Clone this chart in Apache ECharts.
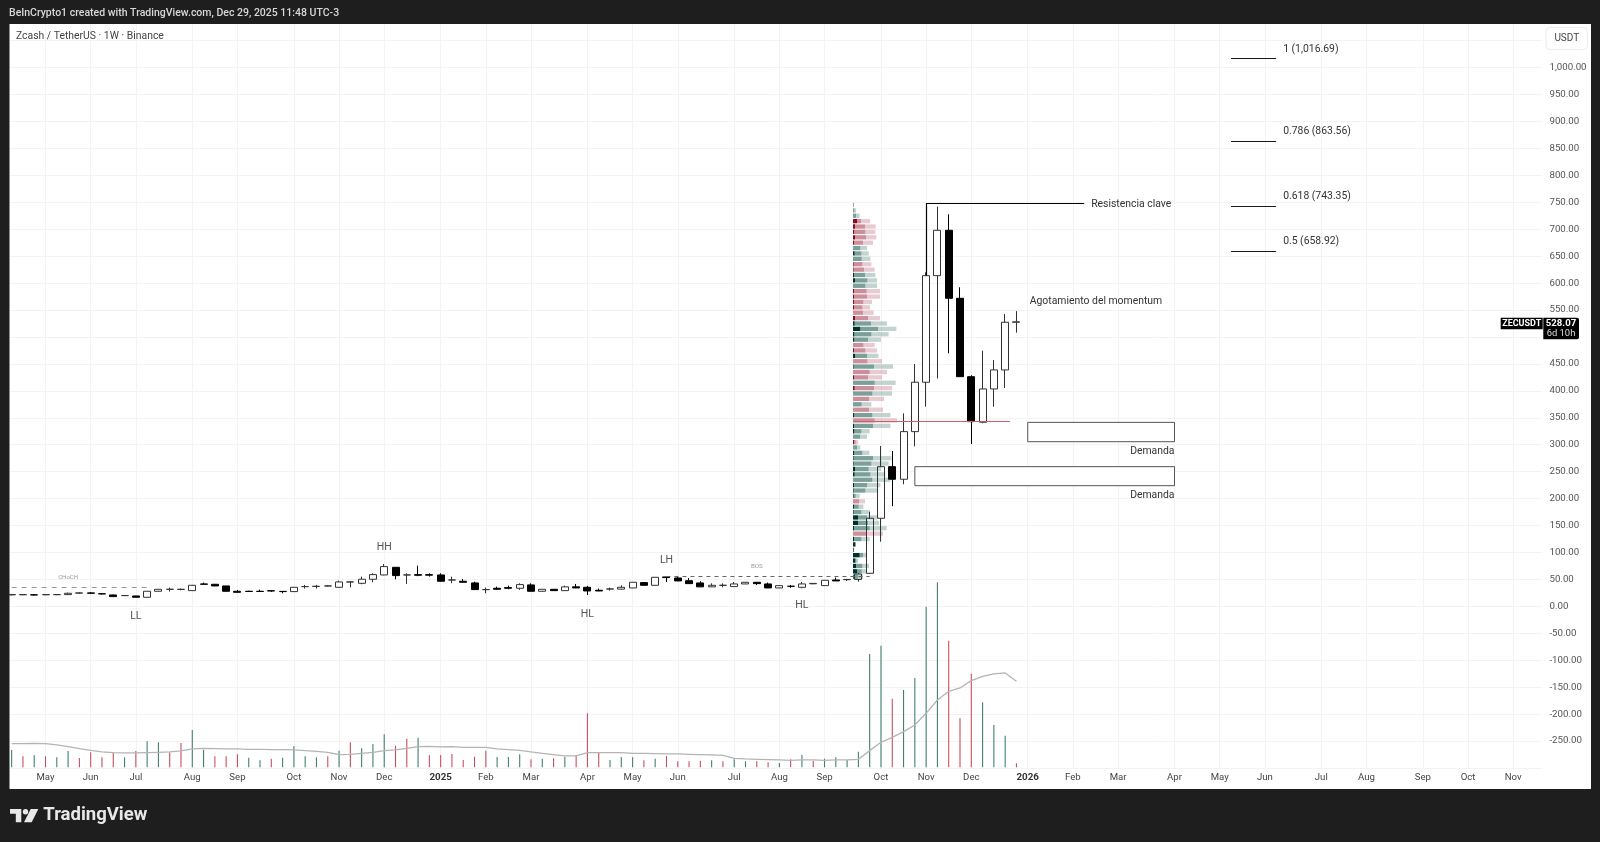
<!DOCTYPE html>
<html>
<head>
<meta charset="utf-8">
<title>ZECUSDT</title>
<style>html,body{margin:0;padding:0;background:#1e1e1e}#main{width:1600px;height:842px}</style>
<script src="https://cdn.jsdelivr.net/npm/echarts@6/dist/echarts.min.js"></script>
</head>
<body>
<div id="main"></div>
<script>
// weekly bars, first one is the week of 2024-04-15, last one with data 2025-12-29
var tickWeeks = ['2024-05-06','2024-06-03','2024-07-01','2024-08-05','2024-09-02','2024-10-07','2024-11-04','2024-12-02','2025-01-06','2025-02-03','2025-03-03','2025-04-07','2025-05-05','2025-06-02','2025-07-07','2025-08-04','2025-09-01','2025-10-06','2025-11-03','2025-12-01','2026-01-05','2026-02-02','2026-03-02','2026-04-06','2026-05-04','2026-06-01','2026-07-06','2026-08-03','2026-09-07','2026-10-05','2026-11-02'];
var tickLabels = ['May','Jun','Jul','Aug','Sep','Oct','Nov','Dec','2025','Feb','Mar','Apr','May','Jun','Jul','Aug','Sep','Oct','Nov','Dec','2026','Feb','Mar','Apr','May','Jun','Jul','Aug','Sep','Oct','Nov'];

// open, close, low, high
var ohlc = [
  [21.5,21.8,20.4,23.1],[21.6,21.8,20.8,22.8],[21.4,21.2,19.9,22.4],[21.6,21.8,20.8,22.6],[21.8,21.8,20.8,22.8],
  [21.8,24.3,21.2,25.5],[24.6,24.9,23.8,26.1],[25,24.3,23.7,26.4],[23.4,23.1,21.8,24.2],[21.2,18.1,18,21.6],
  [20,20,19.6,20.8],[19.3,16.9,16.8,19.6],[16.9,28,16.8,28.2],[28,31.7,27.6,32],[31.7,31.7,27.4,34.8],
  [31.5,31.7,29.9,33],[29.2,39.1,28.8,39.8],[41.6,41,40.8,44.1],[41,37.9,37.6,41.6],[37.9,28,27.8,38.2],
  [28,26.1,25.8,30.5],[28,27.6,27,29],[28,27.6,27,31],[29,28.6,27,29.6],[27.8,27.4,24.3,28],
  [27.4,35.4,27,35.8],[36.7,36.7,33,39.8],[37,37.3,33,39.8],[37.9,37.9,37,39],[35.4,45.3,35,47.8],
  [45.3,45.3,35.4,46],[42.8,50.3,41,55.2],[50.3,58.9,44.7,61.4],[58.3,73.8,57.7,78.7],[72.5,57.1,50.3,73],
  [58.3,58.3,41.6,61.4],[58.9,57.7,56,75.6],[58.9,57.9,55.2,61.4],[58.3,46.6,46,61.4],[49,49,43,55.2],
  [46.6,44.7,44.4,50.9],[43.5,31.1,31,45.9],[31.1,31.1,24.3,34.8],[33.6,31.7,30.5,36.7],[34.8,33.6,31.7,38.5],
  [33.6,40.4,30.5,42.8],[39.8,28,27.6,42.8],[28,31.7,27.5,32],[31.7,29.2,29,32],[29.2,36.2,28.8,38.5],
  [36.2,34.2,33.8,41.6],[35.4,28.6,21.2,38],[29.9,28.6,28,33],[32.3,32.3,29.2,34.8],[32,35.4,31,39.1],
  [34.2,44.7,33.9,45],[44.1,39.1,38.8,44.4],[39.1,54,38.8,54.2],[54.6,53.4,45.3,54.8],[52.7,47.2,46.8,56.5],
  [47.6,42.2,42,52.7],[43.5,36.2,36,46.6],[36.2,39.1,35.8,42.8],[39.1,39.1,35.4,42.8],[36.7,41.6,36,45.3],
  [41.6,44.7,41.4,45],[44.7,42.2,39.8,45],[41.6,34.2,33.9,44.1],[34.2,38.5,33.9,39],[37.3,37.3,34.2,39.8],
  [35.4,41.6,33.6,45.3],[41.9,42.6,41,43],[38.5,48.4,38.2,48.6],[49,47.2,47,53.4],[49.5,50,47,51],
  [50,60,45.9,62],[61.4,163.5,60,175.8],[163.5,259.3,120,297.7],[259.3,235.9,186,288.4],[235.9,324.3,226.6,358.3],
  [324.3,416,297,449.8],[416,613.8,370.6,620],[613.8,698,423,741.9],[698,571.8,469.7,727.7],[571.8,426.3,426,592.2],
  [426.3,342.8,301.4,429],[341.7,403.5,340,474.6],[403.5,438.8,370.6,457.3],[438.8,527.3,405.3,542.7],[527.3,528.07,508,548]
];

// volume, read as bar height (1 unit = a third of a pixel)
var volumes = [52,33,36,33,30,49,28,45,30,43,30,49,78,75,45,73,112,53,33,33,39,29,21,26,29,63,33,30,33,50,75,57,70,99,65,86,89,36,
  37,40,22,32,50,31,31,39,24,26,27,32,37,162,43,22,31,30,21,26,34,18,18,19,21,18,24,18,18,15,13,24,37,20,26,30,22,47,
  340,365,206,232,268,482,555,380,147,281,195,127,95,12];
// 1 = buy bar, 0 = sell bar
var volumeSide = [1,0,1,0,1,1,0,0,0,0,1,0,1,1,0,0,1,1,0,0,0,1,1,0,1,1,1,1,0,1,0,1,1,1,0,0,1,0,
  0,0,0,0,0,1,1,1,0,1,0,1,0,0,0,1,1,1,0,1,0,0,0,0,1,0,1,1,0,0,1,0,1,0,1,1,1,1,
  1,1,0,1,1,1,1,0,0,0,1,1,1,0];
var volumeMa = [71,71,72,71,67,62,56,51,46,44,43,43,44,45,46,49,55,57,56,55,55,54,54,53,53,52,50,48,45,38,39,42,45,50,52,57,62,63,
  61,62,60,60,60,55,53,51,46,42,38,34,34,44,44,44,44,42,42,41,40,40,39,38,37,36,27,25,24,23,22,21,22,22,21,22,22,24,
  50,75,90,107,127,162,202,228,238,260,273,280,283,258];

// visible range profile: bin price, side (1 buy heavy, 0 sell heavy), dark, mid and total extents
var vpRows = [
  [745,1,0,2,3],[735,1,0,4,9],[725,1,0,9,20],[715,0,12,24,51],[705,0,6,36,68],[695,0,4,37,67],[685,0,6,39,70],
  [675,0,3,30,60],[665,1,0,22,42],[655,1,5,25,47],[645,1,0,26,52],[635,0,2,28,55],[625,0,2,33,65],[615,1,3,36,67],
  [605,1,6,43,72],[595,1,0,37,72],[585,0,3,41,81],[575,0,3,42,81],[565,0,3,31,57],[555,0,3,28,51],[545,0,0,30,62],
  [535,0,6,45,81],[525,1,5,54,102],[515,1,22,75,130],[505,1,4,55,107],[495,1,4,45,84],[485,0,0,31,65],[475,0,3,37,72],
  [465,1,6,42,76],[455,0,0,43,87],[445,1,2,63,120],[435,0,0,50,102],[425,0,3,45,87],[415,1,0,65,128],[405,0,5,63,117],
  [395,1,0,58,117],[385,0,0,48,93],[375,1,0,26,55],[365,0,0,48,90],[355,1,3,58,112],[345,0,0,65,132],[335,1,3,60,112],
  [325,1,4,25,50],[315,1,0,21,42],[305,0,3,8,15],[295,1,0,12,22],[285,1,3,28,49],[275,1,2,60,115],[265,1,2,55,107],
  [255,1,6,47,85],[245,1,5,52,97],[235,1,0,58,112],[225,1,3,42,82],[215,1,2,37,75],[205,1,2,8,20],[195,0,0,18,36],
  [185,1,3,17,31],[175,1,2,25,50],[165,1,15,42,72],[155,1,15,45,78],[145,1,3,50,101],[135,0,0,42,90],[125,1,3,25,50],
  [115,1,7,8,9],[105,1,2,2,4],[95,1,20,30,40],[85,1,7,10,15],[75,1,9,28,48],[65,1,12,26,42],[55,1,2,15,30]
];
var pocPrice = 343;
var pocEnd = 471;

var fibRatios = ['1','0.786','0.618','0.5'];
var fibLevels = [1016.69,863.56,743.35,658.92];
var resistance = 748;
var choch = 34.7;
var bos = 55.1;
var demandZones = [[90,103,341.5,305.6],[80,103,259.3,224]];

var categories = [];
for (var i = 0; i < 136; i++) {
    categories.push(new Date(Date.UTC(2024, 3, 15 + i * 7)).toISOString().slice(0, 10));
}
var tickMap = {};
tickWeeks.forEach(function (w, i) { tickMap[w] = tickLabels[i]; });

var font = 'Roboto, "Noto Sans", sans-serif';
var inkLine = '#1a1a1a';

function textMark(idx, price, text, pos, size, color, offset) {
    return {
        coord: [idx, price], symbol: 'circle', symbolSize: 0, itemStyle: {color: 'transparent'},
        label: {show: true, formatter: text, position: pos, distance: 0, offset: offset || [0, 0],
            fontFamily: font, fontSize: size, color: color}
    };
}
function hLine(x0, x1, y, style) {
    return [{coord: [x0, y], lineStyle: style}, {coord: [x1, y]}];
}

var fibLines = fibLevels.map(function (v) {
    return hLine(108, 112, v, {color: inkLine, width: 1, type: 'solid'});
});
var fibTexts = fibLevels.map(function (v, i) {
    var txt = fibRatios[i] + ' (' + v.toLocaleString('en-US', {minimumFractionDigits: 2}) + ')';
    return textMark(112, v, txt, 'right', 10.4, '#333', [7, -9.5]);
});

var markers = [
    textMark(33, 109, 'HH', 'inside', 10.5, '#555'),
    textMark(11, -19, 'LL', 'inside', 10.5, '#555'),
    textMark(58, 86, 'LH', 'inside', 10.5, '#555'),
    textMark(51, -14, 'HL', 'inside', 10.5, '#555'),
    textMark(70, 1, 'HL', 'inside', 10.5, '#555'),
    textMark(5, 53, 'CHoCH', 'inside', 6, '#999'),
    textMark(66, 75, 'BOS', 'inside', 6.2, '#999'),
    textMark(95, resistance, 'Resistencia clave', 'right', 10.4, '#333', [7, 1]),
    textMark(90, 567.7, 'Agotamiento del momentum', 'right', 10.4, '#333', [2, 1]),
    textMark(103, 290.3, 'Demanda', 'left', 10.4, '#333', [0, 1]),
    textMark(103, 208.7, 'Demanda', 'left', 10.4, '#333', [0, 1])
].concat(fibTexts);

function renderProfile(params, api) {
    var price = api.value(1), side = api.value(2);
    var dark = api.value(3), mid = api.value(4), total = api.value(5);
    var h = api.size([0, 10])[1] * 0.8;
    var y = api.coord([0, price])[1] - h / 2;
    var x0 = api.coord([0, price])[0], unit = api.size([1, 0])[0];
    var cols = side ? ['#00312a', 'rgba(0,72,60,0.52)', 'rgba(0,72,60,0.24)']
                    : ['#8a0a1e', 'rgba(150,20,48,0.48)', 'rgba(150,20,48,0.22)'];
    var parts = [[0, dark], [dark, mid], [mid, total]];
    return {
        type: 'group',
        children: parts.map(function (p, k) {
            return {type: 'rect', shape: {x: x0 + p[0] * unit, y: y, width: (p[1] - p[0]) * unit, height: h},
                style: {fill: cols[k]}};
        })
    };
}

var myChart = echarts.init(document.getElementById('main'), null, {renderer: 'canvas'});
var darkBg = '#1e1e1e';

myChart.setOption({
    animation: false,
    backgroundColor: '#fff',
    grid: [
        {left: 6, width: 1535.44, top: 13.7, bottom: 74},
        {left: 6, width: 1535.44, top: 567.3, height: 200},
        {left: 853, width: 400, top: 13.7, bottom: 74}
    ],
    xAxis: [
        {
            type: 'category', data: categories, gridIndex: 0,
            axisLine: {show: false}, axisTick: {show: false},
            axisLabel: {
                interval: function (i, v) { return !!tickMap[v]; },
                formatter: function (v) {
                    var t = tickMap[v] || '';
                    return t.length === 4 ? '{b|' + t + '}' : t;
                },
                color: '#444', fontFamily: font, fontSize: 9.6, margin: 5,
                rich: {b: {fontWeight: 'bold', color: '#333', fontFamily: font, fontSize: 9.8}}
            },
            splitLine: {show: true, alignWithLabel: true, interval: function (i, v) { return !!tickMap[v]; },
                lineStyle: {color: '#f3f3f3', width: 1}}
        },
        {type: 'category', data: categories, gridIndex: 1, show: false},
        {type: 'value', gridIndex: 2, min: 0, max: 1200, show: false}
    ],
    yAxis: [
        {
            type: 'value', gridIndex: 0, position: 'right', min: -300, max: 1100, interval: 50,
            axisLine: {show: false}, axisTick: {show: false},
            axisLabel: {
                margin: 8, color: '#555', fontFamily: font, fontSize: 9.7, align: 'left', padding: [2, 0, 0, 0],
                formatter: function (v) {
                    if (v > 1000 || v < -250) return '';
                    return v.toLocaleString('en-US', {minimumFractionDigits: 2});
                }
            },
            splitLine: {show: true, lineStyle: {color: '#f3f3f3', width: 1}}
        },
        {type: 'value', gridIndex: 1, min: 0, max: 600, show: false},
        {type: 'value', gridIndex: 2, min: -300, max: 1100, show: false}
    ],
    series: [
        {
            name: 'Volume', type: 'bar', xAxisIndex: 1, yAxisIndex: 1, barWidth: 1.1, z: 1,
            data: volumes,
            itemStyle: {
                color: function (p) { return volumeSide[p.dataIndex] ? '#3f8072' : '#c8505e'; }
            }
        },
        {
            name: 'Volume MA', type: 'line', xAxisIndex: 1, yAxisIndex: 1, data: volumeMa, z: 2,
            showSymbol: false, symbol: 'none', lineStyle: {color: '#b4b4b4', width: 1.3}
        },
        {
            name: 'ZECUSDT', type: 'candlestick', xAxisIndex: 0, yAxisIndex: 0, z: 3,
            barWidth: 7.5, data: ohlc,
            itemStyle: {color: '#fff', color0: '#000', borderColor: '#333', borderColor0: '#000', borderWidth: 1},
            markLine: {
                silent: true, symbol: 'none', label: {show: false}, animation: false,
                data: [
                    hLine(0, 12, choch, {color: '#999', width: 1, type: [5, 5]}),
                    hLine(58, 76, bos, {color: '#666', width: 1, type: [4, 4]}),
                    hLine(81, 95, resistance, {color: '#000', width: 1.2, type: 'solid'}),
                    [{coord: [81, resistance], lineStyle: {color: '#000', width: 1.2, type: 'solid'}}, {coord: [81, 613.8]}]
                ].concat(fibLines)
            },
            markArea: {
                silent: true, animation: false,
                itemStyle: {color: '#fff', borderColor: '#555', borderWidth: 1},
                data: demandZones.map(function (z) {
                    return [{coord: [z[0], z[2]]}, {coord: [z[1], z[3]]}];
                })
            },
            markPoint: {silent: true, animation: false, data: markers}
        },
        {
            name: 'Profile', type: 'custom', xAxisIndex: 2, yAxisIndex: 2, z: 4,
            renderItem: renderProfile,
            encode: {x: 0, y: 1},
            data: vpRows.map(function (r) { return [r[4], r[0], r[1], r[2], r[3], r[4]]; }),
            markLine: {
                silent: true, symbol: 'none', label: {show: false}, animation: false,
                lineStyle: {color: '#c9606e', width: 1, type: 'solid'},
                data: [[{coord: [0, pocPrice]}, {coord: [pocEnd, pocPrice]}]]
            }
        }
    ],
    graphic: [
        // dark frame around the pane
        {type: 'rect', z: 100, silent: true, shape: {x: 0, y: 0, width: 1600, height: 24}, style: {fill: darkBg}},
        {type: 'rect', z: 100, silent: true, shape: {x: 0, y: 789, width: 1600, height: 53}, style: {fill: darkBg}},
        {type: 'rect', z: 100, silent: true, shape: {x: 0, y: 0, width: 9.5, height: 842}, style: {fill: darkBg}},
        {type: 'rect', z: 100, silent: true, shape: {x: 1591, y: 0, width: 9, height: 842}, style: {fill: darkBg}},
        {type: 'text', z: 101, silent: true, x: 9, y: 7.5, style: {text: 'BeInCrypto1 created with TradingView.com, Dec 29, 2025 11:48 UTC-3', fill: '#d8d8d8', font: '500 10.5px ' + font}},
        {type: 'text', z: 101, silent: true, x: 16, y: 31.5, style: {text: 'Zcash / TetherUS · 1W · Binance', fill: '#444', font: '10.4px ' + font}},
        // currency button
        {type: 'rect', z: 101, silent: true, shape: {x: 1546, y: 27.5, width: 41.5, height: 22, r: 4}, style: {fill: '#fff', stroke: '#ececec', lineWidth: 1}},
        {type: 'text', z: 102, silent: true, x: 1566.8, y: 33, style: {text: 'USDT', fill: '#444', font: '10px ' + font, textAlign: 'center'}},
        // last price tag
        {type: 'rect', z: 101, silent: true, shape: {x: 1500.7, y: 317.7, width: 42, height: 11.5}, style: {fill: '#000'}},
        {type: 'rect', z: 101, silent: true, shape: {x: 1543.3, y: 317.7, width: 35.7, height: 21.6, r: [0, 2, 2, 0]}, style: {fill: '#000'}},
        {type: 'text', z: 102, silent: true, x: 1521.7, y: 319, style: {text: 'ZECUSDT', fill: '#fff', font: 'bold 9px ' + font, textAlign: 'center'}},
        {type: 'text', z: 102, silent: true, x: 1561, y: 318.8, style: {text: '528.07', fill: '#fff', font: 'bold 9.6px ' + font, textAlign: 'center'}},
        {type: 'text', z: 102, silent: true, x: 1561, y: 329.2, style: {text: '6d 10h', fill: '#ddd', font: '9.4px ' + font, textAlign: 'center'}},
        // footer logo
        {type: 'polygon', z: 101, silent: true, shape: {points: [[10, 809], [21.3, 809], [21.3, 822.3], [15.8, 822.3], [15.8, 813.8], [10, 813.8]]}, style: {fill: '#e8e8e8'}},
        {type: 'circle', z: 101, silent: true, shape: {cx: 25.5, cy: 811.7, r: 2.7}, style: {fill: '#e8e8e8'}},
        {type: 'polygon', z: 101, silent: true, shape: {points: [[30.7, 809], [38.3, 809], [31.7, 822.3], [24, 822.3]]}, style: {fill: '#e8e8e8'}},
        {type: 'text', z: 101, silent: true, x: 43.3, y: 805.5, style: {text: 'TradingView', fill: '#e8e8e8', font: 'bold 18.5px ' + font}}
    ]
});
</script>
</body>
</html>
